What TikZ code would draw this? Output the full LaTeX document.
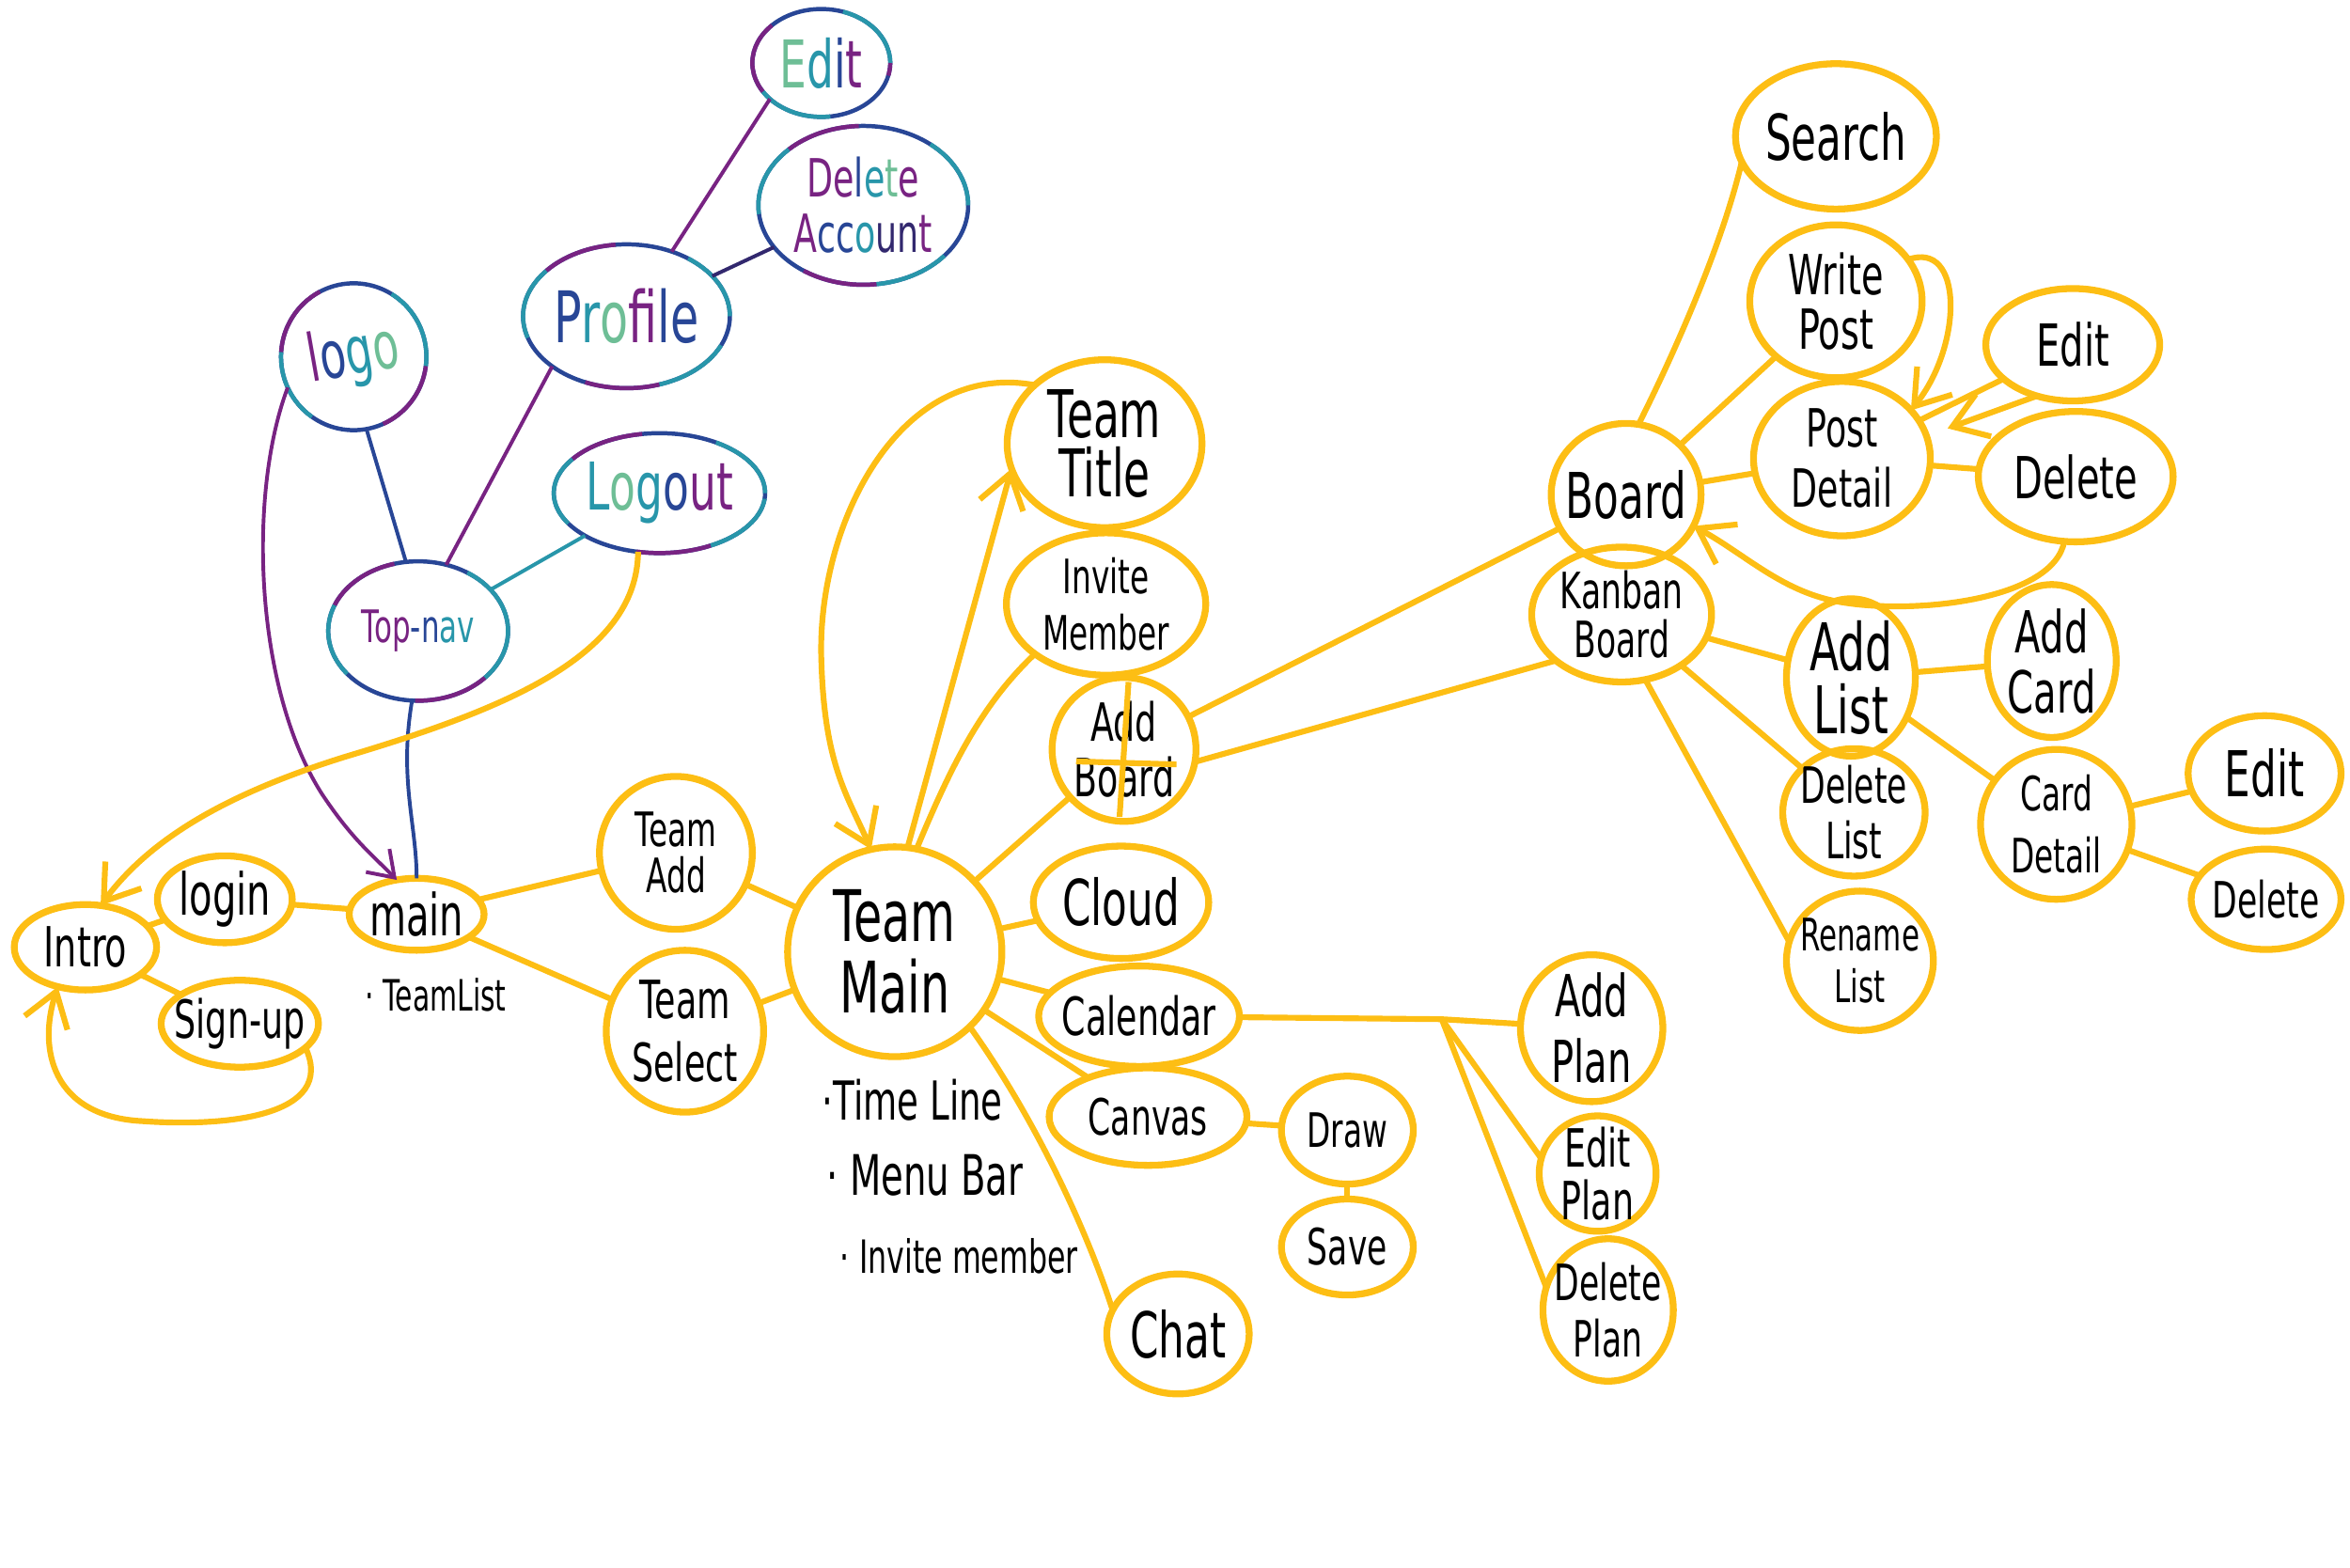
\documentclass[tikz,border=0pt]{standalone}
\usepackage{fontspec}
\setmainfont{DejaVu Sans}[FakeStretch=0.65]
\usetikzlibrary{shapes.geometric,arrows.meta}
\definecolor{yel}{RGB}{253,190,20}
\definecolor{gpurple}{RGB}{120,35,130}
\definecolor{gblue}{RGB}{40,70,150}
\definecolor{gteal}{RGB}{40,150,170}
\definecolor{ggreen}{RGB}{110,190,150}
\definecolor{gdark}{RGB}{50,40,110}
\newcommand\gcol[2]{\textcolor{#1}{#2}}
\tikzset{
  yb/.style={ellipse, draw=yel, line width=1.3pt, inner sep=0pt, outer sep=0pt},
  gb/.style={ellipse, draw=gblue, line width=0.8pt, inner sep=0pt, outer sep=0pt,
    postaction={draw=gteal, line width=0.8pt, dash pattern=on 5mm off 10mm},
    postaction={draw=gpurple, line width=0.8pt, dash pattern=on 5mm off 10mm, dash phase=5mm}},
  sz/.style 2 args={minimum width=#1mm, minimum height=#2mm},
  tx/.style={align=center, inner sep=0pt, text=black},
  lab/.style 2 args={label={[tx,#1]center:#2}},
  fb/.style 2 args={font=\fontsize{#1}{#2}\selectfont},
  yl/.style={draw=yel, line width=1.1pt},
  gl/.style={line width=0.7pt},
  arr/.style={-{Straight Barb[length=2.2mm,width=3mm]}},
  garr/.style={-{Straight Barb[length=1.6mm,width=2.2mm]}},
}
\begin{document}
\begin{tikzpicture}[x=0.1mm,y=-0.1mm]
\useasboundingbox (0,0) rectangle (1568,1046);

% ---------- gradient (top-left) nodes ----------
\node[gb, sz={9.2}{7.2}, lab={fb={12.5}{12.5}}{\gcol{ggreen}{E}\gcol{gteal}{d}\gcol{gblue}{i}\gcol{gpurple}{t}}] (gedit) at (548,42) {};
\node[gb, sz={14.0}{10.6}, lab={fb={10}{10.5}}{\gcol{gpurple}{De}\gcol{gblue}{l}\gcol{gteal}{e}\gcol{ggreen}{t}\gcol{gpurple}{e}\\\gcol{gpurple}{A}\gcol{gblue}{cc}\gcol{gteal}{o}\gcol{gdark}{un}\gcol{gpurple}{t}}] (gdelacc) at (576,137) {};
\node[gb, sz={13.8}{9.6}, lab={fb={13.5}{13.5}}{\gcol{gblue}{P}\gcol{gteal}{r}\gcol{ggreen}{o}\gcol{gpurple}{fi}\gcol{gblue}{le}}] (profile) at (418,211) {};
\node[gb, sz={9.7}{9.8}, lab={fb={12.5}{12.5},rotate=10}{\gcol{gpurple}{l}\gcol{gblue}{o}\gcol{gteal}{g}\gcol{ggreen}{o}}] (logo) at (236,238) {};
\node[gb, sz={14.1}{8.0}, lab={fb={12.5}{12.5}}{\gcol{gteal}{L}\gcol{ggreen}{o}\gcol{gteal}{g}\gcol{gblue}{o}\gcol{gpurple}{ut}}] (logout) at (440,329) {};
\node[gb, sz={12.0}{9.3}, lab={fb={8.5}{8.5}}{\gcol{gpurple}{Top}\gcol{gblue}{-n}\gcol{gteal}{av}}] (topnav) at (279,421) {};

% ---------- yellow nodes ----------
\node[yb, sz={9.5}{5.7}, lab={fb={10.5}{10.5}}{Intro}] (intro) at (57,632) {};
\node[yb, sz={9.0}{5.8}, lab={fb={11}{11}}{login}] (login) at (150,600) {};
\node[yb, sz={10.5}{5.8}, lab={fb={10}{10}}{Sign-up}] (signup) at (160,683) {};
\node[yb, sz={9.0}{4.8}, lab={fb={11}{11}}{main}] (mainn) at (278,610) {};
\node[tx, fb={8.2}{8.2}, anchor=west] (teamlist) at (243,664) {· TeamList};

\node[yb, sz={10.2}{10.2}, lab={fb={9}{8.8}}{Team\\Add}] (teamadd) at (451,569) {};
\node[yb, sz={10.5}{10.8}, lab={fb={10}{12}}{Team\\Select}] (teamselect) at (457,688) {};
\node[yb, sz={14.3}{14.0}, lab={fb={13.5}{13.4}}{Team\\Main}] (teammain) at (597,635) {};
\node[tx, fb={10.2}{10.2}, anchor=west] (timeline) at (548,734) {·Time Line};
\node[tx, fb={10.6}{10.6}, anchor=west] (menubar) at (551,784) {· Menu Bar};
\node[tx, fb={8.7}{8.7}, anchor=west] (invitemember) at (560,838) {· Invite member};

\node[yb, sz={13.0}{11.2}, lab={fb={12.5}{11.4}}{Team\\Title}] (teamtitle) at (737,296) {};
\node[yb, sz={13.3}{9.5}, lab={fb={9}{10.8}}{Invite\\Member}] (invite) at (738,403) {};
\node[yb, sz={9.6}{9.6}, lab={fb={10}{10.5}}{Add\\Board}] (addboard) at (750,500) {};
\node[yb, sz={11.7}{7.5}, lab={fb={12}{12}}{Cloud}] (cloud) at (748,602) {};
\node[yb, sz={13.4}{6.7}, lab={fb={10}{10}}{Calendar}] (calendar) at (760,678) {};
\node[yb, sz={13.2}{6.5}, lab={fb={9.5}{9.5}}{Canvas}] (canvas) at (766,745) {};
\node[yb, sz={8.8}{7.2}, lab={fb={9}{9}}{Draw}] (drawn) at (899,754) {};
\node[yb, sz={8.8}{6.4}, lab={fb={9.5}{9.5}}{Save}] (save) at (899,832) {};
\node[yb, sz={9.5}{8.0}, lab={fb={12}{12}}{Chat}] (chat) at (786,890) {};
\node[yb, sz={9.5}{9.8}, lab={fb={11}{12.5}}{Add\\Plan}] (addplan) at (1062,686) {};
\node[yb, sz={7.8}{7.7}, lab={fb={10}{10}}{Edit\\Plan}] (editplan) at (1066,783) {};
\node[yb, sz={8.7}{9.5}, lab={fb={9.5}{10.8}}{Delete\\Plan}] (delplan) at (1073,874) {};
\coordinate (br) at (962,680);

\node[yb, sz={10.0}{9.5}, lab={fb={12}{12}}{Board}] (board) at (1085,330) {};
\node[yb, sz={12.0}{9.0}, lab={fb={9.5}{9.4}}{Kanban\\Board}] (kanban) at (1082,410) {};
\node[yb, sz={13.4}{9.7}, lab={fb={12}{12}}{Search}] (search) at (1225,91) {};
\node[yb, sz={11.5}{10.2}, lab={fb={10.5}{10.5}}{Write\\Post}] (writepost) at (1225,201) {};
\node[yb, sz={11.8}{10.3}, lab={fb={10}{11.4}}{Post\\Detail}] (postdetail) at (1229,306) {};
\node[yb, sz={11.6}{7.5}, lab={fb={11}{11}}{Edit}] (edit1) at (1383,230) {};
\node[yb, sz={13.0}{8.7}, lab={fb={11}{11}}{Delete}] (delete1) at (1385,318) {};
\node[yb, sz={8.6}{10.5}, lab={fb={12.5}{12}}{Add\\List}] (addlist) at (1235,452) {};
\node[yb, sz={8.6}{10.2}, lab={fb={11}{11.4}}{Add\\Card}] (addcard) at (1369,441) {};
\node[yb, sz={9.5}{8.5}, lab={fb={9.5}{10.5}}{Delete\\List}] (dellist) at (1237,542) {};
\node[yb, sz={9.8}{9.3}, lab={fb={8.5}{9.7}}{Rename\\List}] (renamelist) at (1241,641) {};
\node[yb, sz={10.1}{10.0}, lab={fb={9}{11.7}}{Card\\Detail}] (carddetail) at (1372,550) {};
\node[yb, sz={10.2}{7.7}, lab={fb={12}{12}}{Edit}] (edit2) at (1511,516) {};
\node[yb, sz={10.0}{6.7}, lab={fb={9.5}{9.5}}{Delete}] (delete2) at (1512,600) {};

% plus sign on Add Board
\draw[yl] (753,455) -- (747,545);
\draw[yl] (718,508) -- (785,510);

% ---------- gradient connectors ----------
\draw[gl,gpurple] (gedit.215) -- (profile.55);
\draw[gl,gdark] (gdelacc) -- (profile);
\draw[gl,gpurple] (profile.214) -- (topnav.67);
\draw[gl,gblue] (logo.-80) -- (topnav.100);
\draw[gl,gteal] (logout) -- (topnav);
\draw[gl,gblue] (topnav.-95) .. controls (266,520) and (278,550) .. (mainn.90);
\draw[gl,gpurple,garr] (logo.205) .. controls (165,330) and (170,460) .. (215,530) .. controls (235,560) and (248,570) .. (mainn.120);

% ---------- yellow connectors ----------
\draw[yl,arr] (logout.-110) .. controls (425,440) and (330,475) .. (230,505) .. controls (150,530) and (100,560) .. (intro.70);
\draw[yl] (intro) -- (login);
\draw[yl] (intro) -- (signup);
\draw[yl,arr] (signup.-20) .. controls (225,745) and (150,752) .. (95,748) .. controls (35,745) and (25,700) .. (intro.-125);
\draw[yl] (login) -- (mainn);
\draw[yl] (mainn) -- (teamadd);
\draw[yl] (mainn) -- (teamselect);
\draw[yl] (teamadd) -- (teammain);
\draw[yl] (teamselect) -- (teammain);
\draw[yl,arr] (teammain.83) -- (teamtitle.195);
\draw[yl,arr] (teamtitle.140) .. controls (600,240) and (545,350) .. (548,440) .. controls (550,510) and (565,530) .. (teammain.103);
\draw[yl] (teammain.78) .. controls (635,510) and (655,470) .. (invite.215);
\draw[yl] (teammain) -- (addboard);
\draw[yl] (addboard) -- (board);
\draw[yl] (addboard.-10) -- (kanban.215);
\draw[yl] (teammain) -- (cloud);
\draw[yl] (teammain) -- (calendar);
\draw[yl] (teammain) -- (canvas);
\draw[yl] (teammain.-45) .. controls (690,745) and (725,820) .. (chat.160);
\draw[yl] (canvas) -- (drawn);
\draw[yl] (drawn) -- (save);
\draw[yl] (calendar) -- (br) -- (addplan);
\draw[yl] (br) -- (editplan.165);
\draw[yl] (br) -- (delplan.160);

\draw[yl] (board.80) .. controls (1120,230) and (1150,160) .. (search.195);
\draw[yl] (board) -- (writepost);
\draw[yl] (board) -- (postdetail);
\draw[yl,arr] (writepost.30) .. controls (1310,160) and (1310,230) .. (postdetail.35);
\draw[yl] (edit1) -- (postdetail);
\draw[yl,arr,shorten >=1.5mm] (edit1.235) -- (postdetail.15);
\draw[yl] (postdetail) -- (delete1);
\draw[yl,arr] (delete1.-100) .. controls (1370,400) and (1280,410) .. (1230,402) .. controls (1190,396) and (1165,370) .. (board.-25);

\draw[yl] (kanban) -- (addlist);
\draw[yl] (kanban) -- (dellist);
\draw[yl] (kanban.-70) -- (renamelist.165);
\draw[yl] (addlist) -- (addcard);
\draw[yl] (addlist) -- (carddetail);
\draw[yl] (carddetail) -- (edit2);
\draw[yl] (carddetail) -- (delete2);
\end{tikzpicture}
\end{document}
